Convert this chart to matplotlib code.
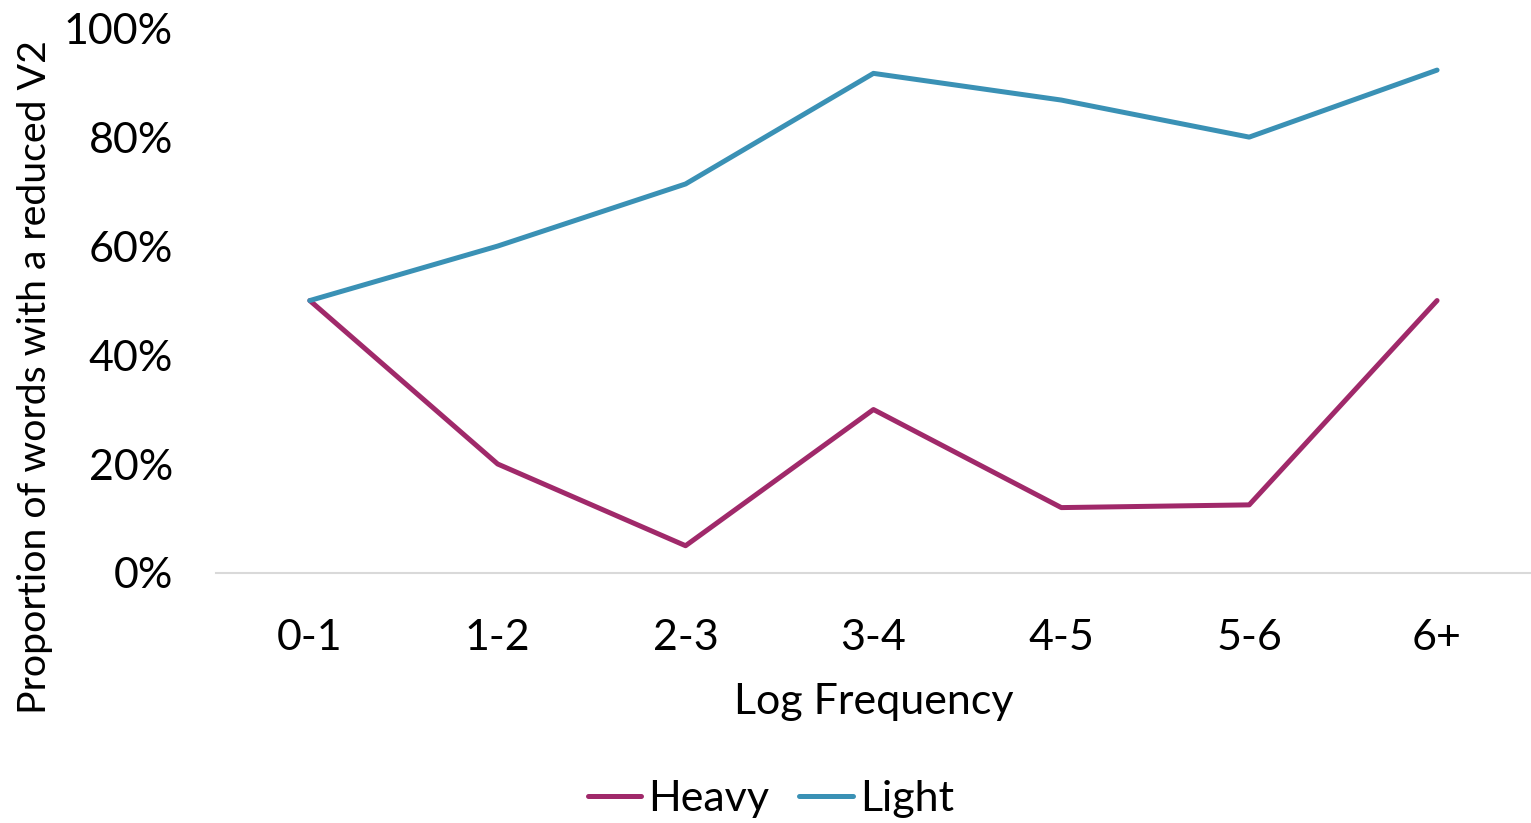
import matplotlib.pyplot as plt
from matplotlib.ticker import PercentFormatter

categories = ['0-1', '1-2', '2-3', '3-4', '4-5', '5-6', '6+']
heavy = [50.0, 20.0, 5.0, 30.0, 12.0, 12.5, 50.0]
light = [50.0, 60.0, 71.4, 91.7, 86.8, 80.0, 92.3]
yticks = [0, 20, 40, 60, 80, 100]

plt.rcParams['font.family'] = ['Lato', 'DejaVu Sans']

fig = plt.figure(figsize=(15.31, 8.23), dpi=100)
ax = fig.add_axes([0.141, 0.3038, 0.859, 0.662])

x = range(len(categories))
ax.plot(x, heavy, color='#A0296A', lw=3.6, solid_capstyle='round', solid_joinstyle='round', label='Heavy')
ax.plot(x, light, color='#3A91B5', lw=3.6, solid_capstyle='round', solid_joinstyle='round', label='Light')

ax.set_xlim(-0.5, len(categories) - 0.5)
ax.set_ylim(0, 100)
ax.set_yticks(yticks)
ax.yaxis.set_major_formatter(PercentFormatter(decimals=0))
ax.set_xticks(list(x))
ax.set_xticklabels(categories)

for s in ['top', 'right', 'left']:
    ax.spines[s].set_visible(False)
ax.spines['bottom'].set_color('#D9D9D9')
ax.spines['bottom'].set_linewidth(1.5)
ax.tick_params(axis='both', length=0, labelsize=31)
ax.tick_params(axis='x', pad=33)
ax.tick_params(axis='y', pad=31)

ax.set_xlabel('Log Frequency', fontsize=31, labelpad=19)
ax.set_ylabel('Proportion of words with a reduced V2', fontsize=28.3)
ax.yaxis.set_label_coords(-0.124, 0.36)

ax.legend(loc='center', bbox_to_anchor=(0.422, -0.415), ncol=2, frameon=False,
          fontsize=31, handlelength=1.25, handletextpad=0.16, columnspacing=0.7)

plt.savefig('out.png', dpi=100)
